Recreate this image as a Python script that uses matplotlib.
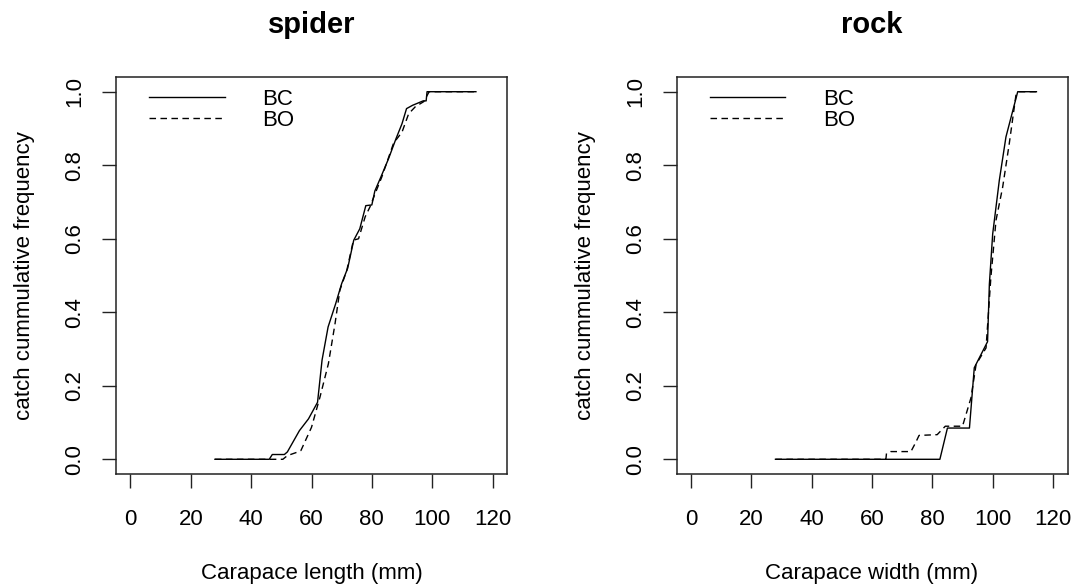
"""
Cumulative catch frequency by carapace size for spider and rock crabs
"""

import matplotlib.pyplot as plt

plt.rcParams['font.family'] = ['Liberation Sans', 'DejaVu Sans']

# spider crab, carapace length (mm) vs cumulative frequency
spider_bc_len = [28, 46, 47, 51, 52, 56, 59, 62, 63.5, 65.5, 68, 70, 72,
                 74, 76, 78, 80, 81, 83, 85.5, 88, 90, 91.5, 93.5, 97, 98,
                 98.3, 114.5]
spider_bc_freq = [0, 0, 0.013, 0.013, 0.02, 0.078, 0.11, 0.155, 0.27, 0.36,
                  0.423, 0.478, 0.52, 0.596, 0.627, 0.69, 0.692, 0.73, 0.768,
                  0.817, 0.872, 0.913, 0.954, 0.963, 0.975, 0.975, 1.0, 1.0]
spider_bo_len = [28, 50.5, 52, 55.5, 56.5, 60, 62.8, 65.6, 67.8, 69.4, 71.7,
                 73.9, 75.6, 77.8, 79.4, 81.1, 83.3, 87.2, 90, 92.2, 94.4,
                 97.2, 99, 114.5]
spider_bo_freq = [0, 0, 0.01, 0.02, 0.024, 0.087, 0.169, 0.26, 0.369, 0.46,
                  0.514, 0.596, 0.6, 0.66, 0.687, 0.723, 0.768, 0.86, 0.89,
                  0.94, 0.959, 0.973, 1.0, 1.0]

# rock crab, carapace width (mm) vs cumulative frequency
rock_bc_wid = [28, 82.5, 85, 92.3, 93.9, 98.3, 98.9, 100, 102.2, 104.4,
               108.3, 114.5]
rock_bc_freq = [0, 0, 0.085, 0.085, 0.249, 0.32, 0.476, 0.613, 0.759, 0.877,
                1.0, 1.0]
rock_bo_wid = [28, 64.6, 64.8, 66.2, 72.9, 74.5, 75.6, 81.6, 84.3, 90, 92.8,
               94.5, 97.8, 99.4, 101.1, 103.3, 105.5, 107.7, 108.3, 114.5]
rock_bo_freq = [0, 0, 0.016, 0.021, 0.021, 0.046, 0.065, 0.067, 0.09, 0.09,
                0.167, 0.258, 0.303, 0.495, 0.65, 0.74, 0.859, 0.99, 1.0, 1.0]

x_ticks = [0, 20, 40, 60, 80, 100, 120]
y_ticks = [0.0, 0.2, 0.4, 0.6, 0.8, 1.0]
legend_labels = ['BC', 'BO']

FS = 16
W, H = 1072, 587

fig = plt.figure(figsize=(W / 100, H / 100), dpi=100)


def draw_panel(left_px, title, xlabel, bc_x, bc_y, bo_x, bo_y):
    ax = fig.add_axes([left_px / W, (H - 474) / H, 391 / W, 397 / H])
    ax.plot(bc_x, bc_y, color='black', lw=1.0, label=legend_labels[0])
    ax.plot(bo_x, bo_y, color='black', lw=1.0, dashes=(4.7, 3.2),
            label=legend_labels[1])

    ax.set_xlim(-4.8, 124.8)
    ax.set_ylim(-0.04, 1.04)
    ax.set_xticks(x_ticks)
    ax.set_yticks(y_ticks)
    ax.set_xticklabels([str(v) for v in x_ticks])
    ax.set_yticklabels(['%.1f' % v for v in y_ticks], rotation=90,
                       va='center')
    ax.tick_params(direction='out', length=10, width=1.0, labelsize=FS,
                   color='#222222')
    ax.tick_params(axis='x', pad=15)
    ax.tick_params(axis='y', pad=12)
    for sp in ax.spines.values():
        sp.set_linewidth(1.1)
        sp.set_color('#222222')

    ax.set_title(title, fontsize=21, fontweight='bold', pad=32)
    ax.set_xlabel(xlabel, fontsize=FS, labelpad=24)
    ax.set_ylabel('catch cummulative frequency', fontsize=FS, labelpad=21)

    ax.legend(loc='upper left', bbox_to_anchor=(0.085, 0.97), frameon=False,
              fontsize=FS, handlelength=3.4, handletextpad=1.7,
              labelspacing=0.0, borderpad=0, borderaxespad=0)
    return ax


draw_panel(116, 'spider', 'Carapace length (mm)',
           spider_bc_len, spider_bc_freq, spider_bo_len, spider_bo_freq)
draw_panel(676.5, 'rock', 'Carapace width (mm)',
           rock_bc_wid, rock_bc_freq, rock_bo_wid, rock_bo_freq)

fig.savefig('out.png', dpi=100)
